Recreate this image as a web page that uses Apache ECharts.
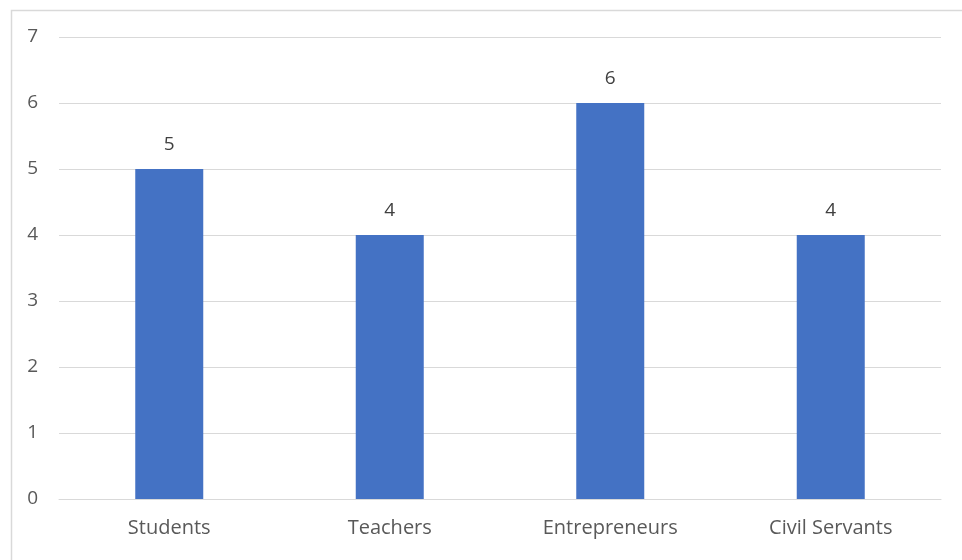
<!DOCTYPE html>
<html><head><meta charset="utf-8">
<script src="https://cdn.jsdelivr.net/npm/echarts@6/dist/echarts.min.js"></script>
<style>html,body{margin:0;padding:0;background:#fff}#c{width:962px;height:560px}</style>
</head><body><div id="c"></div>
<script>
const categories = ['Students', 'Teachers', 'Entrepreneurs', 'Civil Servants'];
const values = [5, 4, 6, 4];
const yTicks = [0, 1, 2, 3, 4, 5, 6, 7];

const chart = echarts.init(document.getElementById('c'));
const font = '"Open Sans", "Noto Sans", sans-serif';
chart.setOption({
  animation: false,
  backgroundColor: '#fff',
  graphic: [{
    type: 'rect', left: 9, top: 8, shape: { width: 1000, height: 600 },
    style: { fill: 'none', stroke: '#d9d9d9', lineWidth: 1.5 }, silent: true
  }],
  grid: { left: 59, right: 21, top: 37, bottom: 61, containLabel: false },
  xAxis: {
    type: 'category', data: categories,
    axisLine: { lineStyle: { color: '#d9d9d9', width: 1 } },
    axisTick: { show: false },
    axisLabel: { color: '#595959', fontSize: 20, fontFamily: font, margin: 19 }
  },
  yAxis: {
    type: 'value', min: yTicks[0], max: yTicks[yTicks.length - 1], interval: 1,
    axisLine: { show: false }, axisTick: { show: false },
    splitLine: { lineStyle: { color: '#d9d9d9', width: 1 } },
    axisLabel: { color: '#595959', fontSize: 19, fontFamily: font, margin: 21 }
  },
  series: [{
    type: 'bar', data: values, barWidth: 68,
    itemStyle: { color: '#4472c4' },
    label: { show: true, position: 'top', distance: 15, color: '#404040', fontSize: 19, fontFamily: font }
  }]
});
</script></body></html>
